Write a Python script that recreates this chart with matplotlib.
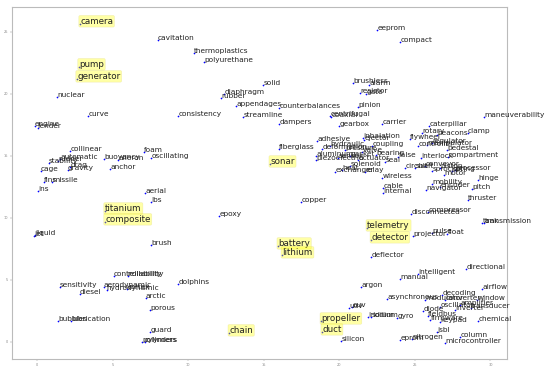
import matplotlib
matplotlib.use("Agg")
import matplotlib.pyplot as plt

# 2-d word embedding (t-SNE style)
words = ['camera', 'cavitation', 'pump', 'generator', 'thermoplastics', 'polyurethane',
         'nuclear', 'solid', 'diaphragm', 'rubber', 'appendages', 'counterbalances',
         'consistency', 'streamline', 'dampers', 'curve', 'engine', 'fender',
         'eeprom', 'compact', 'brushless', 'alarm', 'resistor', 'gate', 'pinion',
         'centrifugal', 'coaxial', 'gearbox', 'carrier', 'caterpillar', 'maneuverability',
         'collinear', 'stability', 'automatic', 'rudder', 'drag', 'gravity', 'cage',
         'fins', 'missile', 'ins', 'buoyancy', 'aileron', 'anchor', 'foam', 'oscillating',
         'aerial', 'lbs', 'titanium', 'composite', 'liquid', 'jet', 'brush',
         'fiberglass', 'sonar', 'copper', 'epoxy', 'battery', 'lithium', 'adhesive',
         'chain', 'dolphins', 'propeller', 'duct', 'silicon', 'uuv', 'auv', 'argon',
         'iridium', 'sodium', 'gyro', 'eprom', 'nitrogen', 'jsbl', 'column',
         'microcontroller', 'chemical', 'airflow', 'asynchronous', 'window',
         'directional', 'manual', 'intelligent', 'deflector', 'telemetry', 'detector',
         'projector', 'pulse', 'float', 'disconnected', 'compressor', 'tank',
         'transmission', 'thruster', 'pitch', 'hinge', 'cable', 'internal', 'clamp',
         'beacons', 'rotary', 'flywheel', 'inhalation', 'manipulator', 'pedestal',
         'compartment', 'interlock', 'processor', 'diode', 'decoding',
         'controllability', 'reliability', 'sensitivity', 'aerodynamic', 'hydrodynamic',
         'vortex', 'diesel', 'arctic', 'porous', 'bubbles', 'lubrication', 'guard',
         'polymers', 'cylinders',
         # dense middle cluster
         'deformation', 'aluminum', 'piezoelectric', 'hydraulic', 'pressure', 'sensor',
         'gasket', 'valve', 'actuator', 'coupling', 'bearing', 'seal', 'exchanger',
         'heat', 'solenoid', 'relay', 'wireless', 'false', 'circuit', 'ejector',
         'controller', 'regulator', 'shaft', 'conveyor', 'sprocket', 'piston', 'spring',
         'motor', 'navigator', 'encoder', 'mobility',
         # dense lower right cluster
         'modulator', 'converter', 'oscillator', 'amplifier', 'transducer', 'inverter',
         'fieldbus', 'firmware', 'keypad']

x = [2.85, 8.01, 2.78, 2.65, 10.4, 11.06,
     1.32, 14.97, 12.38, 12.19, 13.18, 16.03,
     9.34, 13.64, 16.03, 3.38, -0.13, 0.07,
     22.52, 24.04, 20.93, 21.99, 21.39, 21.79, 21.26,
     19.4, 19.47, 20.0, 22.85, 25.96, 29.6,
     2.19, 0.79, 1.52, 1.39, 2.19, 2.05, 0.26,
     0.46, 0.99, 0.07, 4.44, 5.36, 4.83, 7.09, 7.55,
     7.15, 7.55, 4.5, 4.5, -0.13, -0.2, 7.55,
     16.03, 15.43, 17.48, 12.05, 15.96, 16.23, 18.54,
     12.72, 9.34, 18.81, 18.87, 20.13, 20.66, 20.86, 21.46,
     21.92, 22.12, 23.84, 24.04, 24.83, 26.49, 28.01,
     27.02, 29.2, 29.47, 23.18, 29.14,
     28.41, 24.04, 25.23, 22.12, 21.85, 22.12,
     24.9, 26.16, 27.15, 24.77, 25.89, 29.47,
     29.6, 28.48, 28.81, 29.2, 22.91, 22.91, 28.48,
     26.49, 25.5, 24.7, 21.59, 25.83, 27.15,
     27.22, 25.43, 27.68, 25.56, 26.82,
     5.1, 6.0, 1.5, 4.4, 4.6,
     5.97, 2.85, 7.2, 7.5, 1.4, 2.25, 7.5,
     6.95, 7.15,
     18.87, 18.48, 18.48, 19.4, 20.4, 19.93,
     20.73, 21.52, 21.26, 22.19, 22.45, 23.05, 19.74,
     20.2, 20.73, 21.72, 22.85, 23.91, 24.37, 21.66,
     25.23, 26.16, 25.03, 25.7, 26.16, 26.69, 27.48,
     26.95, 25.76, 26.69, 26.16,
     25.7, 27.02, 26.69, 28.01, 28.68, 27.68,
     25.89, 26.03, 26.69]

y = [25.65, 24.35, 22.18, 21.21, 23.31, 22.58,
     19.76, 20.73, 20.0, 19.68, 19.03, 18.87,
     18.23, 18.15, 17.58, 18.23, 17.42, 17.26,
     25.16, 24.19, 20.89, 20.73, 20.08, 20.0, 18.95,
     18.23, 18.15, 17.42, 17.58, 17.42, 18.15,
     15.4, 14.44, 14.76, 14.6, 14.11, 13.87, 13.79,
     12.9, 12.9, 12.18, 14.76, 14.68, 13.95, 15.32, 14.84,
     12.02, 11.29, 10.56, 9.68, 8.63, 8.55, 7.82,
     15.56, 14.35, 11.29, 10.16, 7.74, 7.02, 16.21,
     0.73, 4.68, 1.69, 0.81, 0.08, 2.74, 2.82, 4.44,
     2.02, 2.02, 1.94, 0.16, 0.24, 0.81, 0.4,
     -0.08, 1.69, 4.27, 3.47, 3.39,
     5.89, 5.08, 5.48, 6.85, 9.19, 8.23,
     8.55, 8.79, 8.71, 10.32, 10.48, 9.6,
     9.6, 11.45, 12.34, 13.06, 12.42, 12.02, 16.85,
     16.69, 16.85, 16.37, 16.45, 15.89, 15.48,
     14.92, 14.84, 13.87, 2.5, 3.79,
     5.3, 5.3, 4.4, 4.4, 4.2,
     4.3, 3.9, 3.5, 2.6, 1.7, 1.7, 0.8,
     0.0, 0.0,
     15.56, 15.0, 14.68, 15.81, 15.48, 14.84,
     15.0, 15.32, 14.68, 15.81, 15.08, 14.52, 13.71,
     13.87, 14.19, 13.71, 13.23, 14.92, 14.03, 16.29,
     15.81, 16.05, 14.03, 14.19, 13.79, 14.03, 13.79,
     13.47, 12.26, 12.5, 12.74,
     3.39, 3.39, 2.82, 2.98, 2.74, 2.58,
     2.1, 1.77, 1.61]

highlight = ['camera', 'pump', 'generator', 'titanium', 'composite', 'sonar',
             'battery', 'lithium', 'telemetry', 'detector', 'propeller', 'duct', 'chain']

fig = plt.figure(figsize=(5.5, 3.7), dpi=100)
ax = fig.add_axes([0.022, 0.03, 0.9, 0.951])
ax.scatter(x, y, s=1.5, c='blue', lw=0)

for w, xi, yi in zip(words, x, y):
    if w in highlight:
        ax.annotate(w, (xi, yi), fontsize=6.3, color='#222222',
                    bbox=dict(boxstyle='round,pad=0.15', fc='yellow', ec='#d8d070',
                              lw=0.4, alpha=0.35))
    else:
        ax.annotate(w, (xi, yi), fontsize=5.3, color='#222222')

ax.set_xlim(-1.65, 31.1)
ax.set_ylim(-1.37, 27.0)
ax.set_xticks([0, 5, 10, 15, 20, 25, 30])
ax.set_yticks([0, 5, 10, 15, 20, 25])
ax.tick_params(labelsize=2.5, length=1.5, width=0.3, colors='#888888', pad=1.5)
for s in ax.spines.values():
    s.set_color('#bbbbbb')
    s.set_linewidth(0.8)

plt.savefig('out.png', dpi=100)
